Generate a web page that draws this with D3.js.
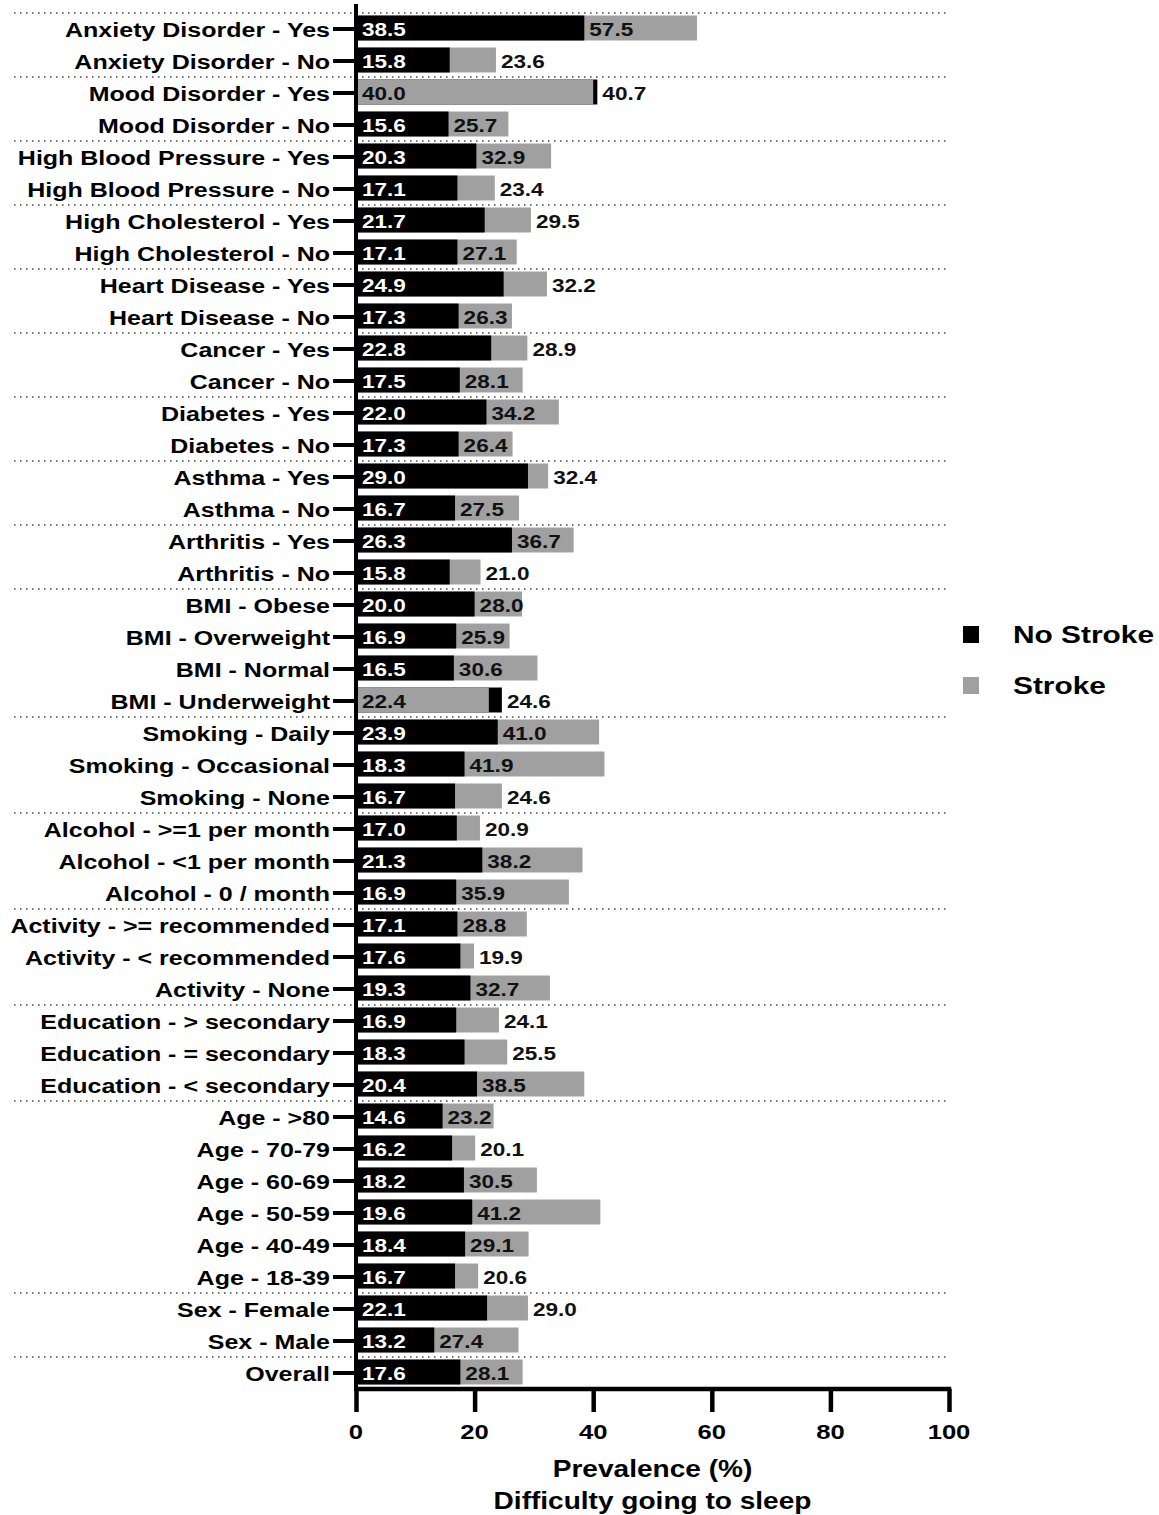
<!DOCTYPE html>
<html>
<head>
<meta charset="utf-8">
<script src="https://cdn.jsdelivr.net/npm/d3@7"></script>
<style>
  body { margin: 0; background: #fff; }
  svg text { font-family: "Liberation Sans", Arial, sans-serif; font-weight: bold; }
</style>
</head>
<body>
<div class="container"></div>
<script>
// rows, top to bottom
var categories = [
  'Anxiety Disorder - Yes', 'Anxiety Disorder - No',
  'Mood Disorder - Yes', 'Mood Disorder - No',
  'High Blood Pressure - Yes', 'High Blood Pressure - No',
  'High Cholesterol - Yes', 'High Cholesterol - No',
  'Heart Disease - Yes', 'Heart Disease - No',
  'Cancer - Yes', 'Cancer - No',
  'Diabetes - Yes', 'Diabetes - No',
  'Asthma - Yes', 'Asthma - No',
  'Arthritis - Yes', 'Arthritis - No',
  'BMI - Obese', 'BMI - Overweight', 'BMI - Normal', 'BMI - Underweight',
  'Smoking - Daily', 'Smoking - Occasional', 'Smoking - None',
  'Alcohol - >=1 per month', 'Alcohol - <1 per month', 'Alcohol - 0 / month',
  'Activity - >= recommended', 'Activity - < recommended', 'Activity - None',
  'Education - > secondary', 'Education - = secondary', 'Education - < secondary',
  'Age - >80', 'Age - 70-79', 'Age - 60-69', 'Age - 50-59', 'Age - 40-49', 'Age - 18-39',
  'Sex - Female', 'Sex - Male',
  'Overall'
];

var noStroke = [38.5, 15.8, 40.7, 15.6, 20.3, 17.1, 21.7, 17.1, 24.9, 17.3, 22.8, 17.5,
  22.0, 17.3, 29.0, 16.7, 26.3, 15.8, 20.0, 16.9, 16.5, 24.6, 23.9, 18.3, 16.7,
  17.0, 21.3, 16.9, 17.1, 17.6, 19.3, 16.9, 18.3, 20.4, 14.6, 16.2, 18.2, 19.6,
  18.4, 16.7, 22.1, 13.2, 17.6];

var stroke = [57.5, 23.6, 40.0, 25.7, 32.9, 23.4, 29.5, 27.1, 32.2, 26.3, 28.9, 28.1,
  34.2, 26.4, 32.4, 27.5, 36.7, 21.0, 28.0, 25.9, 30.6, 22.4, 41.0, 41.9, 24.6,
  20.9, 38.2, 35.9, 28.8, 19.9, 32.7, 24.1, 25.5, 38.5, 23.2, 20.1, 30.5, 41.2,
  29.1, 20.6, 29.0, 27.4, 28.1];

var xTicks = [0, 20, 40, 60, 80, 100];
var seriesNames = ['No Stroke', 'Stroke'];
var seriesColors = ['#000000', '#a0a0a0'];

var W = 1159, H = 1515;
var SX = 1.22; // text in the picture is a bit stretched sideways

var svg = d3.select('.container').append('svg')
  .attr('width', W)
  .attr('height', H);

var x = d3.scaleLinear().domain([0, 100]).range([356, 949]);
var y = d3.scaleBand().domain(categories).range([12, 1388])
  .paddingInner(0.22).paddingOuter(0.11);

function groupOf(c) { return c.split(' - ')[0]; }

function stretched(sel, px, py) {
  return sel.attr('transform', 'translate(' + px + ',' + py + ') scale(' + SX + ',1)');
}

// dotted group separators
var sepRows = categories.filter(function (c, i) {
  return i === 0 || groupOf(c) !== groupOf(categories[i - 1]);
});
svg.selectAll('line.sep').data(sepRows).enter().append('line')
  .attr('class', 'sep')
  .attr('x1', 14).attr('x2', x(100) - 1)
  .attr('y1', function (d) { return y(d) - y.step() * 0.11 + 1; })
  .attr('y2', function (d) { return y(d) - y.step() * 0.11 + 1; })
  .attr('stroke', '#444')
  .attr('stroke-width', 1.5)
  .attr('stroke-dasharray', '1.5 4.5');

// bars: larger value first, smaller drawn on top
var rows = categories.map(function (c, i) {
  var a = { s: 0, v: noStroke[i] }, b = { s: 1, v: stroke[i] };
  var big = a.v >= b.v ? a : b, small = a.v >= b.v ? b : a;
  return { cat: c, big: big, small: small };
});

var rowG = svg.selectAll('g.row').data(rows).enter().append('g')
  .attr('class', 'row')
  .attr('transform', function (d) { return 'translate(0,' + y(d.cat) + ')'; });

rowG.append('rect')
  .attr('x', x(0))
  .attr('y', 0)
  .attr('height', y.bandwidth())
  .attr('width', function (d) { return x(d.big.v) - x(0); })
  .attr('fill', function (d) { return seriesColors[d.big.s]; });

rowG.append('rect')
  .attr('x', x(0))
  .attr('y', 0)
  .attr('height', y.bandwidth())
  .attr('width', function (d) { return x(d.small.v) - x(0); })
  .attr('fill', function (d) { return seriesColors[d.small.s]; });

var ty = y.bandwidth() / 2 + 7.5;

// smaller value inside its bar
rowG.append('text')
  .each(function (d) { stretched(d3.select(this), x(0) + 6, ty); })
  .attr('font-size', 18.5)
  .attr('fill', function (d) { return d.small.s === 0 ? '#fff' : '#111'; })
  .text(function (d) { return d.small.v.toFixed(1); });

// larger value: after the smaller bar if there is room, else after the bar end
rowG.append('text')
  .each(function (d) {
    var inside = d.big.v - d.small.v >= 8;
    var px = inside ? x(d.small.v) + 5 : x(d.big.v) + 5;
    stretched(d3.select(this), px, ty);
  })
  .attr('font-size', 18.5)
  .attr('fill', '#111')
  .text(function (d) { return d.big.v.toFixed(1); });

// y axis
var yAxis = d3.axisLeft(y).tickSize(23).tickPadding(3).tickFormat('');
var yG = svg.append('g').attr('transform', 'translate(' + (x(0) - 0) + ',0)').call(yAxis);
yG.select('.domain').remove();
yG.selectAll('.tick line').attr('stroke', '#000').attr('stroke-width', 4)
  .attr('transform', 'translate(0,1)');
svg.append('line')
  .attr('x1', x(0)).attr('x2', x(0))
  .attr('y1', 4).attr('y2', 1391)
  .attr('stroke', '#000').attr('stroke-width', 4);

svg.selectAll('text.cat').data(categories).enter().append('text')
  .attr('class', 'cat')
  .each(function (d) { stretched(d3.select(this), 330, y(d) + y.bandwidth() / 2 + 8.5); })
  .attr('text-anchor', 'end')
  .attr('font-size', 20.5)
  .attr('fill', '#000')
  .text(function (d) { return d; });

// x axis
var xAxis = d3.axisBottom(x).tickValues(xTicks).tickSize(23).tickFormat('');
var xG = svg.append('g').attr('transform', 'translate(0,1389)').call(xAxis);
xG.select('.domain').remove();
xG.selectAll('.tick line').attr('stroke', '#000').attr('stroke-width', 4.5);
svg.append('line')
  .attr('x1', x(0) - 2).attr('x2', x(100) + 2.25)
  .attr('y1', 1389).attr('y2', 1389)
  .attr('stroke', '#000').attr('stroke-width', 4.5);

svg.selectAll('text.xt').data(xTicks).enter().append('text')
  .attr('class', 'xt')
  .each(function (d) { stretched(d3.select(this), x(d), 1439); })
  .attr('text-anchor', 'middle')
  .attr('font-size', 21)
  .text(function (d) { return d; });

var mid = (x(0) + x(100)) / 2;
stretched(svg.append('text'), mid, 1477)
  .attr('text-anchor', 'middle').attr('font-size', 23)
  .text('Prevalence (%)');
stretched(svg.append('text'), mid, 1509)
  .attr('text-anchor', 'middle').attr('font-size', 23)
  .text('Difficulty going to sleep');

// legend
var leg = svg.selectAll('g.leg').data(seriesNames).enter().append('g')
  .attr('class', 'leg')
  .attr('transform', function (d, i) { return 'translate(963,' + (626 + i * 51) + ')'; });
leg.append('rect')
  .attr('width', 16).attr('height', 17)
  .attr('fill', function (d, i) { return seriesColors[i]; });
leg.append('text')
  .each(function () { stretched(d3.select(this), 50, 17); })
  .attr('font-size', 24.5)
  .text(function (d) { return d; });
</script>
</body>
</html>
